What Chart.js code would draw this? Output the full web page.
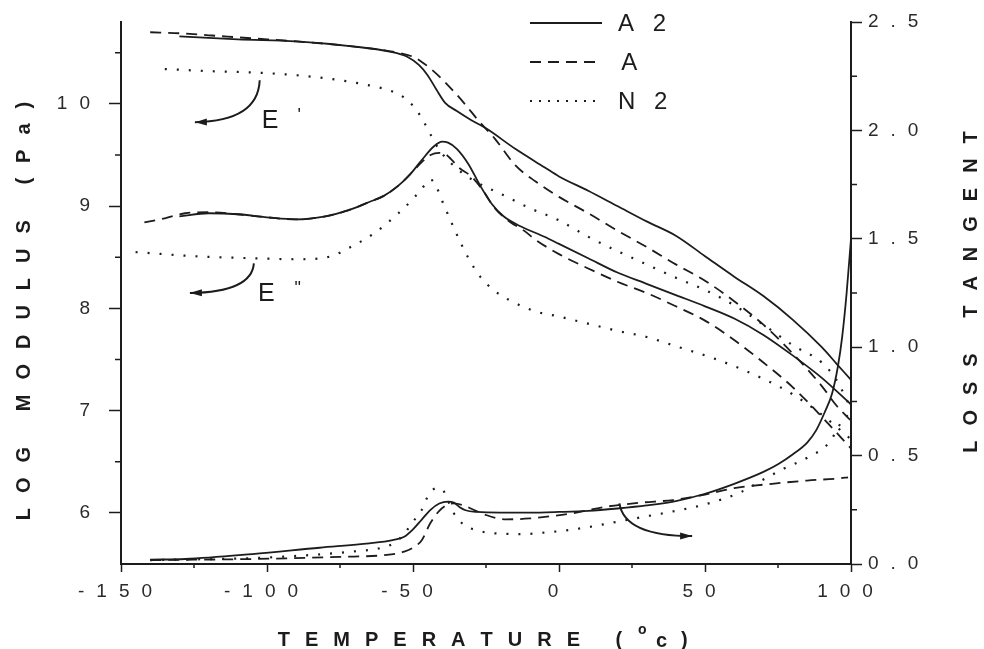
<!DOCTYPE html>
<html>
<head>
<meta charset="utf-8">
<script src="https://cdn.jsdelivr.net/npm/chart.js@4.4.1/dist/chart.umd.min.js"></script>
<style>
    html, body { margin: 0; padding: 0; background: #fff; }
    #wrap { width: 984px; height: 649px; }
</style>
</head>
<body>
<div id="wrap"><canvas id="dmaChart" width="984" height="649"></canvas></div>
<script>
// storage modulus E' (log Pa) vs temperature (°C)
const tEpA2 = [-130, -110, -90, -70, -58, -52, -48, -45, -42, -39, -35, -30, -25, -15, -5, 0, 10, 20, 30, 40, 50, 60, 70, 80, 90, 95, 100];
const epA2 = [10.66, 10.63, 10.61, 10.56, 10.51, 10.46, 10.38, 10.28, 10.14, 10.01, 9.93, 9.84, 9.76, 9.56, 9.38, 9.29, 9.15, 9.00, 8.85, 8.71, 8.51, 8.31, 8.12, 7.89, 7.62, 7.46, 7.30];

const tEpA = [-140, -130, -120, -105, -90, -70, -55, -50, -47, -43, -40, -36, -32, -28, -22, -15, -8, 0, 10, 20, 30, 40, 50, 60, 70, 80, 90, 95, 100];
const epA = [10.70, 10.69, 10.67, 10.64, 10.61, 10.56, 10.50, 10.46, 10.41, 10.32, 10.24, 10.12, 9.99, 9.85, 9.66, 9.40, 9.24, 9.09, 8.93, 8.76, 8.60, 8.43, 8.27, 8.07, 7.84, 7.56, 7.24, 7.05, 6.90];

const tEpN2 = [-135, -120, -100, -80, -65, -57, -53, -50, -47, -44, -41, -37, -33, -28, -20, -10, 0, 10, 20, 30, 40, 50, 60, 70, 80, 90, 95, 100];
const epN2 = [10.34, 10.32, 10.30, 10.25, 10.18, 10.12, 10.06, 9.98, 9.86, 9.70, 9.55, 9.42, 9.32, 9.23, 9.12, 8.98, 8.86, 8.70, 8.56, 8.43, 8.30, 8.18, 8.03, 7.84, 7.64, 7.47, 7.30, 7.02];

// loss modulus E'' (log Pa)
const tEppA2 = [-130, -120, -110, -100, -90, -80, -72, -65, -60, -55, -51, -47, -43, -40, -38, -35, -31, -27, -23, -19, -13, -5, 0, 10, 20, 30, 40, 50, 60, 70, 80, 90, 100];
const eppA2 = [8.90, 8.93, 8.92, 8.89, 8.87, 8.90, 8.96, 9.04, 9.10, 9.20, 9.31, 9.45, 9.58, 9.63, 9.62, 9.56, 9.41, 9.20, 9.02, 8.90, 8.80, 8.70, 8.63, 8.49, 8.35, 8.24, 8.13, 8.02, 7.90, 7.74, 7.54, 7.32, 7.06];

const tEppA = [-142, -135, -128, -120, -110, -100, -90, -80, -72, -65, -60, -55, -51, -47, -44, -41, -39, -37, -34, -30, -26, -22, -17, -12, -8, 0, 10, 20, 30, 40, 50, 60, 70, 80, 90, 100];
const eppA = [8.84, 8.88, 8.93, 8.94, 8.92, 8.89, 8.87, 8.90, 8.96, 9.04, 9.10, 9.20, 9.31, 9.43, 9.50, 9.52, 9.51, 9.46, 9.37, 9.29, 9.15, 8.98, 8.85, 8.76, 8.67, 8.53, 8.39, 8.26, 8.15, 8.02, 7.88, 7.69, 7.47, 7.23, 6.94, 6.63];

const tEppN2 = [-145, -125, -105, -89, -78, -72, -63, -55, -50, -47, -44, -42, -40, -37, -34, -31, -27, -22, -17, -8, 0, 10, 20, 30, 40, 55, 70, 80, 90, 100];
const eppN2 = [8.55, 8.51, 8.49, 8.48, 8.51, 8.59, 8.74, 8.93, 9.07, 9.17, 9.26, 9.19, 9.05, 8.85, 8.66, 8.49, 8.31, 8.17, 8.08, 7.97, 7.92, 7.85, 7.78, 7.72, 7.63, 7.49, 7.31, 7.16, 6.96, 6.72];

// loss tangent (right axis)
const tTanA2 = [-140, -128, -105, -82, -65, -57, -53, -50, -47, -44, -41, -38, -36, -34, -32, -28, -20, -10, 0, 10, 20, 30, 40, 50, 60, 70, 75, 80, 85, 88, 91, 93.5, 95.5, 97, 98.5, 100];
const tanA2 = [0.02, 0.023, 0.046, 0.075, 0.095, 0.11, 0.126, 0.16, 0.205, 0.25, 0.279, 0.288, 0.283, 0.262, 0.248, 0.240, 0.237, 0.237, 0.240, 0.245, 0.256, 0.270, 0.290, 0.324, 0.37, 0.425, 0.46, 0.505, 0.56, 0.615, 0.70, 0.785, 0.91, 1.05, 1.25, 1.50];

const tTanA = [-140, -105, -75, -59, -53, -50, -47, -44, -41, -38, -36, -33, -30, -25, -18, -10, -3, 5, 16, 28, 39, 50, 60, 73, 85, 96, 99];
const tanA = [0.018, 0.023, 0.033, 0.042, 0.057, 0.075, 0.11, 0.19, 0.245, 0.275, 0.28, 0.272, 0.255, 0.226, 0.206, 0.21, 0.22, 0.235, 0.264, 0.283, 0.295, 0.32, 0.35, 0.37, 0.385, 0.395, 0.40];

const tTanN2 = [-140, -100, -71, -61, -56, -53, -50, -47, -45, -42, -40, -38, -36, -32.5, -28, -24, -18, -12, -5, 2, 10, 20, 30, 40, 50, 62, 70, 77, 85, 92.5, 97, 100];
const tanN2 = [0.018, 0.03, 0.057, 0.074, 0.10, 0.14, 0.195, 0.25, 0.31, 0.35, 0.345, 0.29, 0.234, 0.18, 0.155, 0.144, 0.139, 0.138, 0.145, 0.154, 0.17, 0.195, 0.22, 0.245, 0.275, 0.33, 0.39, 0.44, 0.49, 0.56, 0.66, 0.70];

const legendNames = ['A 2', 'A', 'N 2'];

const INK = '#1c1c1c';
const SOLID = [];
const DASH = [11, 7];
const DOT = [2, 10];
const FONT = '"Liberation Sans", Arial, sans-serif';

const sample = (xs, ys) => xs.map((x, i) => ({ x: x, y: ys[i] }));

function curve(label, xs, ys, dash, axis) {
    return {
        label: label,
        data: sample(xs, ys),
        yAxisID: axis,
        borderColor: INK,
        borderWidth: dash === DOT ? 2.2 : 1.8,
        borderDash: dash,
        borderCapStyle: 'butt',
        pointRadius: 0,
        fill: false,
        cubicInterpolationMode: 'monotone'
    };
}

// draw a string one glyph at a time with extra gap between glyphs
function spaced(ctx, text, x, y, gap) {
    const chars = [...text];
    const widths = chars.map(c => ctx.measureText(c).width);
    const total = widths.reduce((a, b) => a + b, 0) + gap * (chars.length - 1);
    let cx = x - total / 2;
    ctx.textAlign = 'left';
    chars.forEach((c, i) => {
        ctx.fillText(c, cx, y);
        cx += widths[i] + gap;
    });
}

function arrow(ctx, p0, p1, p2) {
    ctx.beginPath();
    ctx.moveTo(p0.x, p0.y);
    ctx.quadraticCurveTo(p1.x, p1.y, p2.x, p2.y);
    ctx.stroke();
    const a = Math.atan2(p2.y - p1.y, p2.x - p1.x);
    const len = 12, half = 3.5;
    ctx.beginPath();
    ctx.moveTo(p2.x, p2.y);
    ctx.lineTo(p2.x - len * Math.cos(a) + half * Math.sin(a), p2.y - len * Math.sin(a) - half * Math.cos(a));
    ctx.lineTo(p2.x - len * Math.cos(a) - half * Math.sin(a), p2.y - len * Math.sin(a) + half * Math.cos(a));
    ctx.closePath();
    ctx.fill();
}

// arrows pointing each family of curves to its axis, in data units
const arrows = [
    { axis: 'y', pts: [[-102.5, 10.23], [-103.1, 9.83], [-124.7, 9.82]] },
    { axis: 'y', pts: [[-104.5, 8.44], [-105.2, 8.16], [-126.4, 8.15]] },
    { axis: 'y1', pts: [[20.7, 0.28], [22.4, 0.129], [45.6, 0.129]] }
];

const decorPlugin = {
    id: 'decor',
    beforeDraw(chart) {
        chart.ctx.letterSpacing = '12px';
    },
    beforeDatasetsDraw(chart) {
        chart.ctx.letterSpacing = '0px';
    },
    afterDraw(chart) {
        const ctx = chart.ctx;
        const x = chart.scales.x, yl = chart.scales.y, yr = chart.scales.y1;
        ctx.save();
        ctx.letterSpacing = '0px';
        ctx.strokeStyle = INK;
        ctx.fillStyle = INK;

        // minor ticks
        ctx.lineWidth = 1.5;
        ctx.beginPath();
        for (let v = -125; v < 100; v += 50) {
            const px = x.getPixelForValue(v);
            ctx.moveTo(px, x.top);
            ctx.lineTo(px, x.top + 4);
        }
        for (let v = 6.5; v < 10.8; v += 1) {
            const py = yl.getPixelForValue(v);
            ctx.moveTo(yl.right - 6, py);
            ctx.lineTo(yl.right, py);
        }
        for (let v = 0.25; v < 2.5; v += 0.5) {
            const py = yr.getPixelForValue(v);
            ctx.moveTo(yr.left, py);
            ctx.lineTo(yr.left + 6, py);
        }
        ctx.stroke();

        // arrows
        ctx.lineWidth = 2;
        arrows.forEach(a => {
            const ys = chart.scales[a.axis];
            const p = a.pts.map(q => ({ x: x.getPixelForValue(q[0]), y: ys.getPixelForValue(q[1]) }));
            arrow(ctx, p[0], p[1], p[2]);
        });

        // E' / E'' labels
        ctx.textBaseline = 'middle';
        ctx.textAlign = 'center';
        ctx.font = '25px ' + FONT;
        ctx.fillText('E', x.getPixelForValue(-98.9), yl.getPixelForValue(9.826));
        ctx.fillText('E', x.getPixelForValue(-100.2), yl.getPixelForValue(8.144));
        ctx.font = '18px ' + FONT;
        ctx.fillText('\'', x.getPixelForValue(-89), yl.getPixelForValue(9.88));
        ctx.fillText('"', x.getPixelForValue(-89.5), yl.getPixelForValue(8.19));

        // legend
        const dashes = [SOLID, DASH, [2, 7]];
        ctx.font = '24px ' + FONT;
        legendNames.forEach((name, i) => {
            const ly = 23 + i * 39;
            ctx.setLineDash(dashes[i]);
            ctx.lineWidth = i === 2 ? 2.2 : 1.8;
            ctx.beginPath();
            ctx.moveTo(530, ly);
            ctx.lineTo(602, ly);
            ctx.stroke();
            ctx.setLineDash([]);
            const w = ctx.measureText(name.replace(' ', '')).width + ctx.measureText(' ').width + (name.length - 1) * 6;
            spaced(ctx, name, 618 + w / 2, ly + 1, 6);
        });

        // axis titles
        ctx.font = 'bold 20px ' + FONT;
        ctx.textBaseline = 'middle';
        spaced(ctx, 'TEMPERATURE (', 450, 640, 15);
        ctx.textAlign = 'left';
        ctx.font = 'bold 14px ' + FONT;
        ctx.fillText('o', 638, 630);
        ctx.font = 'bold 20px ' + FONT;
        ctx.fillText('c', 656, 641);
        ctx.fillText(')', 681, 640);

        ctx.save();
        ctx.translate(24, 311);
        ctx.rotate(-Math.PI / 2);
        spaced(ctx, 'LOG MODULUS (Pa)', 0, 0, 15);
        ctx.restore();

        ctx.save();
        ctx.translate(971, 292);
        ctx.rotate(-Math.PI / 2);
        spaced(ctx, 'LOSS TANGENT', 0, 0, 15);
        ctx.restore();

        ctx.restore();
    }
};

const tickFont = { family: FONT, size: 19 };

new Chart(document.getElementById('dmaChart').getContext('2d'), {
    type: 'line',
    plugins: [decorPlugin],
    data: {
        datasets: [
            curve("E' A2", tEpA2, epA2, SOLID, 'y'),
            curve("E' A", tEpA, epA, DASH, 'y'),
            curve("E' N2", tEpN2, epN2, DOT, 'y'),
            curve("E'' A2", tEppA2, eppA2, SOLID, 'y'),
            curve("E'' A", tEppA, eppA, DASH, 'y'),
            curve("E'' N2", tEppN2, eppN2, DOT, 'y'),
            curve('tan A2', tTanA2, tanA2, SOLID, 'y1'),
            curve('tan A', tTanA, tanA, DASH, 'y1'),
            curve('tan N2', tTanN2, tanN2, DOT, 'y1')
        ]
    },
    options: {
        responsive: false,
        devicePixelRatio: 1,
        animation: false,
        layout: { padding: { top: 22, left: 0, right: 0, bottom: 0 } },
        plugins: {
            legend: { display: false },
            tooltip: { enabled: false }
        },
        scales: {
            x: {
                type: 'linear',
                min: -150,
                max: 100,
                afterFit(s) { s.height = 85; },
                ticks: { stepSize: 50, color: '#2a2a2a', font: tickFont, padding: 8, maxRotation: 0, autoSkip: false },
                grid: { drawOnChartArea: false, tickLength: 8, tickColor: INK, tickWidth: 1.5 },
                border: { display: true, color: INK, width: 2 }
            },
            y: {
                position: 'left',
                min: 5.5,
                max: 10.8,
                afterFit(s) { s.width = 121; },
                ticks: { stepSize: 1, includeBounds: false, color: '#2a2a2a', font: tickFont, padding: 7 },
                grid: { drawOnChartArea: false, tickLength: 12, tickColor: INK, tickWidth: 1.5 },
                border: { display: true, color: INK, width: 2 }
            },
            y1: {
                position: 'right',
                min: 0,
                max: 2.5,
                afterFit(s) { s.width = 133; },
                ticks: { stepSize: 0.5, color: '#2a2a2a', font: tickFont, padding: 6, callback: v => v.toFixed(1) },
                grid: { drawOnChartArea: false, tickLength: 11, tickColor: INK, tickWidth: 1.5 },
                border: { display: true, color: INK, width: 2 }
            }
        }
    }
});
</script>
</body>
</html>
